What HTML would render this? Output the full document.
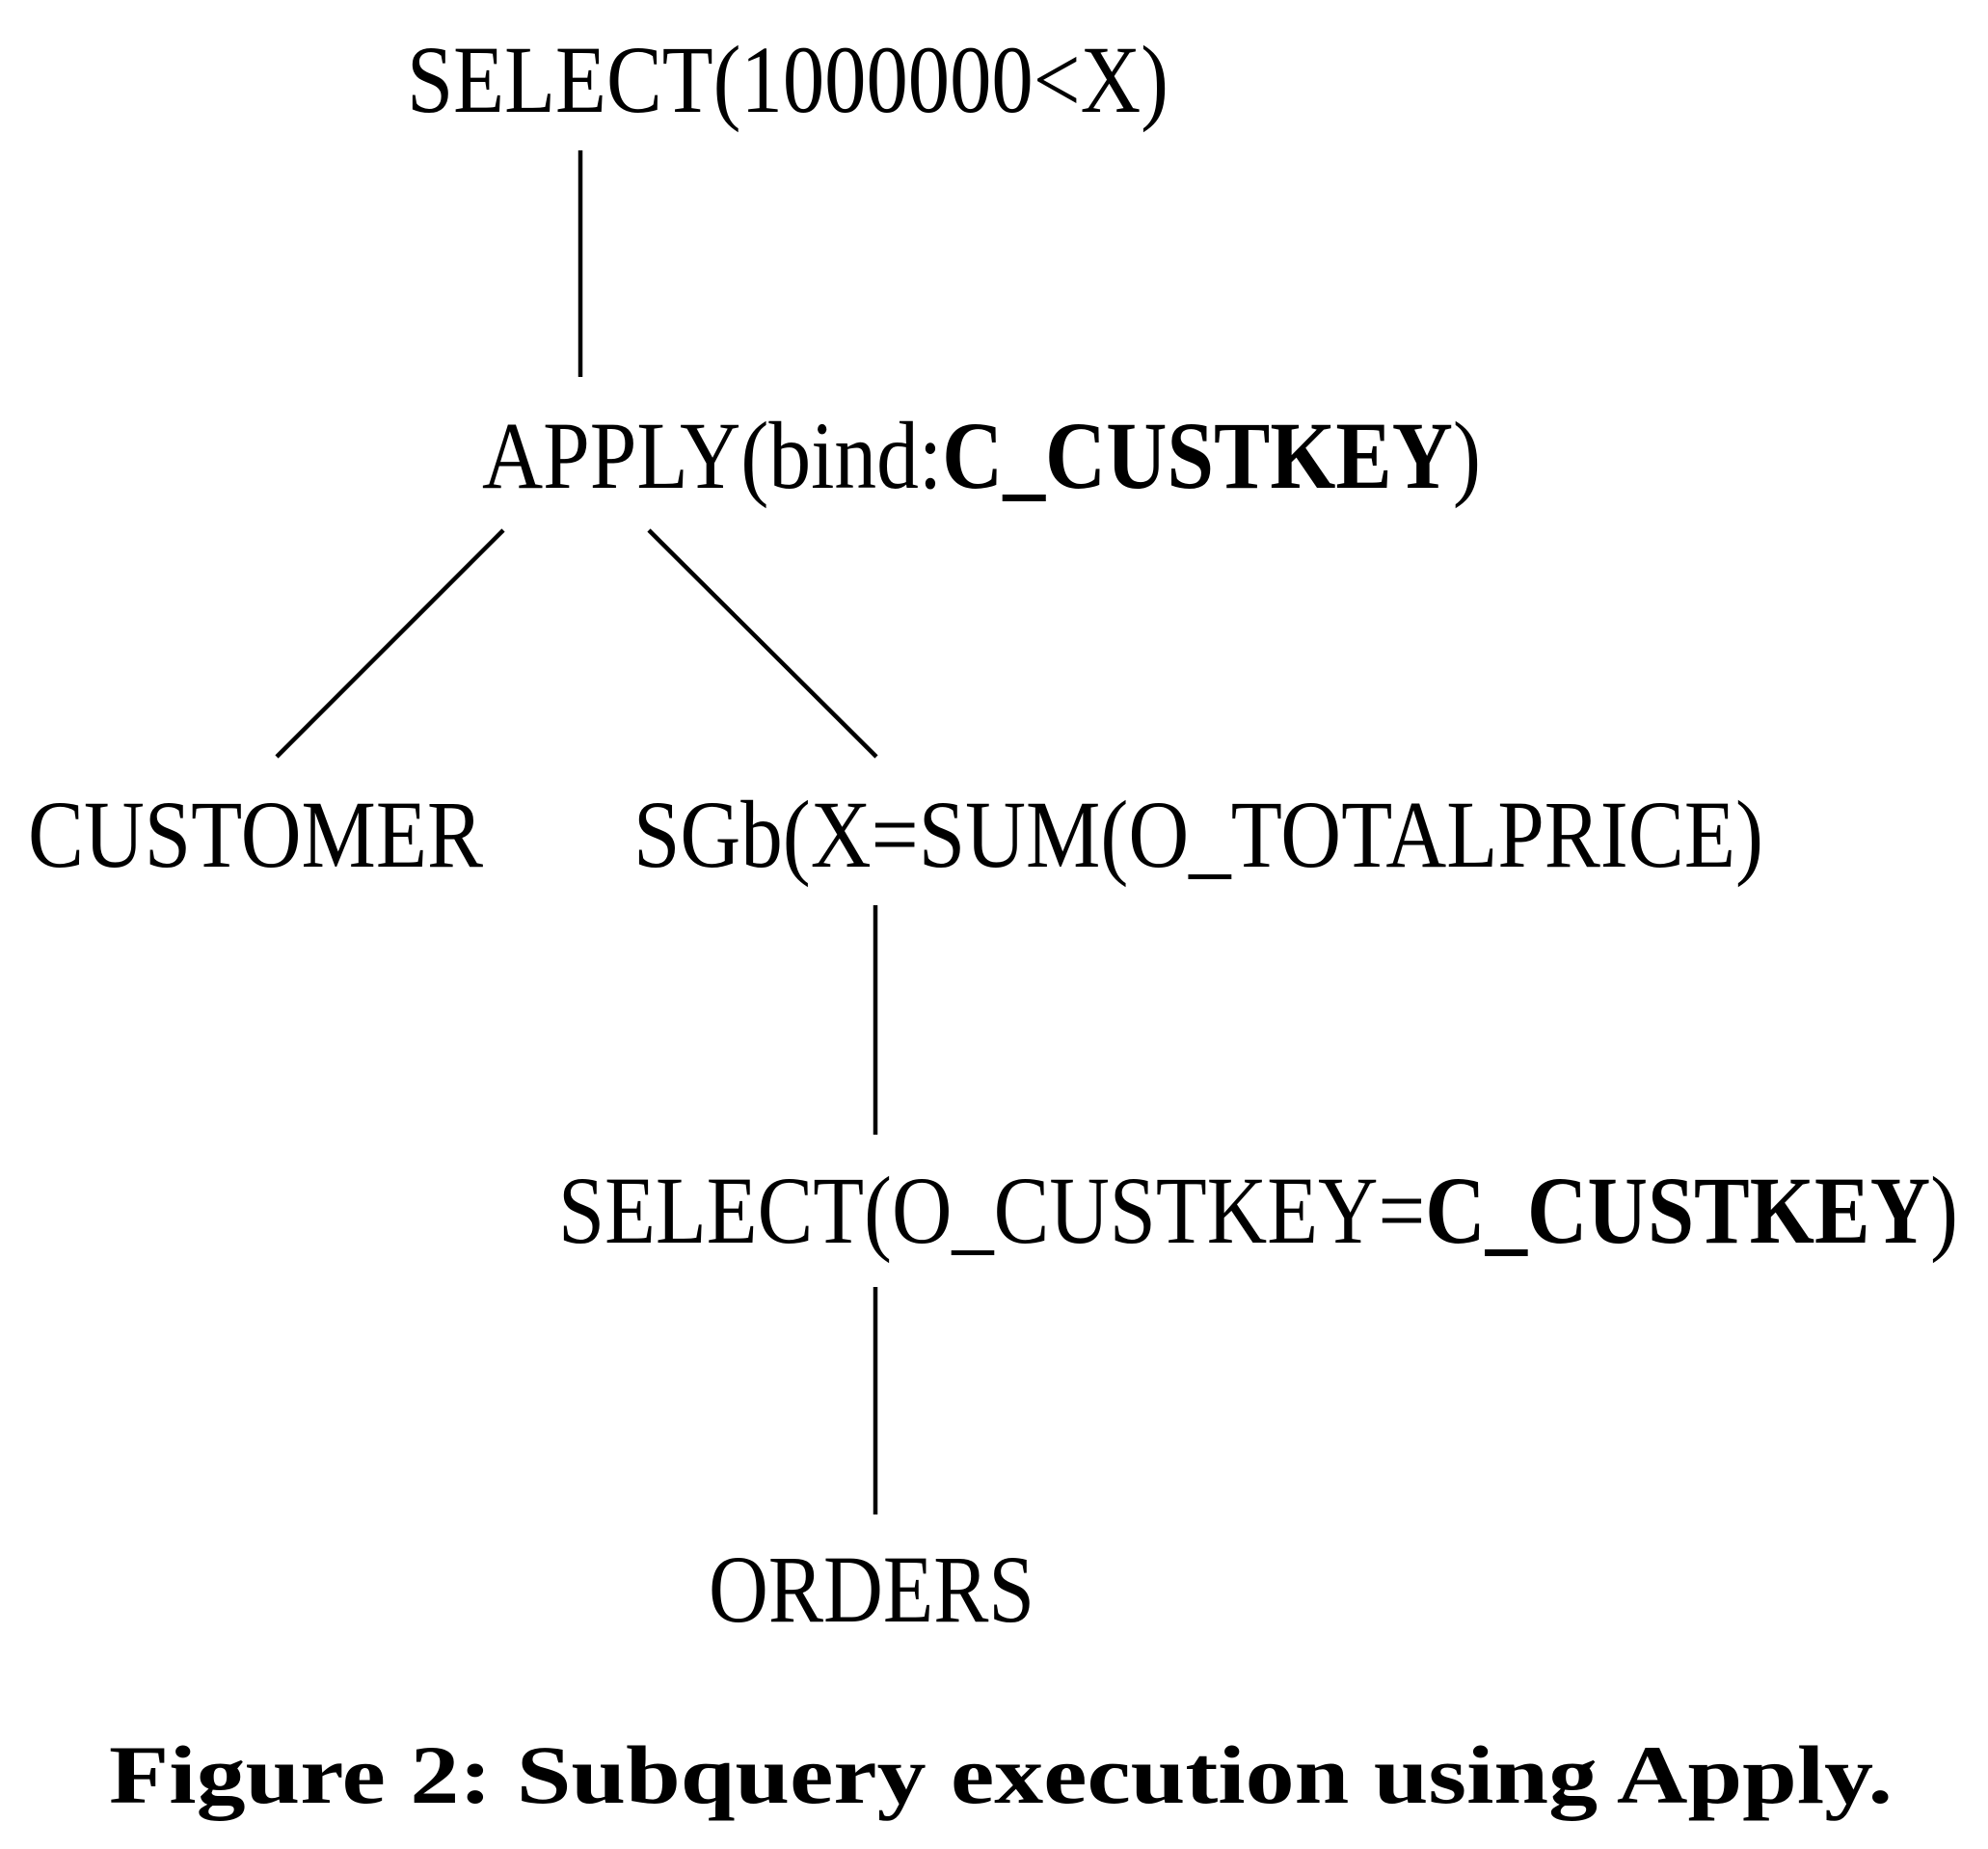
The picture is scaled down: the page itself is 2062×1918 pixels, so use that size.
<!DOCTYPE html>
<html><head><meta charset="utf-8"><style>
html,body{margin:0;padding:0;background:#fff;}
svg{display:block;}
text{font-family:"Liberation Serif",serif;fill:#000;}
</style></head><body>
<svg width="2062" height="1918" viewBox="0 0 2062 1918" xmlns="http://www.w3.org/2000/svg">
<g stroke="#000" stroke-width="4.5" fill="none">
<line x1="602" y1="156" x2="602" y2="391"/>
<line x1="522" y1="550" x2="287" y2="785"/>
<line x1="673" y1="550" x2="909" y2="785"/>
<line x1="908" y1="939" x2="908" y2="1177"/>
<line x1="908" y1="1335" x2="908" y2="1571"/>
</g>
<g font-size="100">
<text x="422" y="116" textLength="790" lengthAdjust="spacingAndGlyphs">SELECT(1000000&lt;X)</text>
<text x="500" y="506" textLength="1036" lengthAdjust="spacingAndGlyphs">APPLY(bind:<tspan font-weight="bold">C_CUSTKEY</tspan>)</text>
<text x="29" y="899" textLength="472" lengthAdjust="spacingAndGlyphs">CUSTOMER</text>
<text x="657" y="899" textLength="1172" lengthAdjust="spacingAndGlyphs">SGb(X=SUM(O_TOTALPRICE)</text>
<text x="579" y="1289" textLength="1452" lengthAdjust="spacingAndGlyphs">SELECT(O_CUSTKEY=<tspan font-weight="bold">C_CUSTKEY</tspan>)</text>
<text x="735" y="1682" textLength="338" lengthAdjust="spacingAndGlyphs">ORDERS</text>
</g>
<text x="113" y="1870" font-size="86" font-weight="bold" textLength="1850" lengthAdjust="spacingAndGlyphs">Figure 2: Subquery execution using Apply.</text>
</svg>
</body></html>
